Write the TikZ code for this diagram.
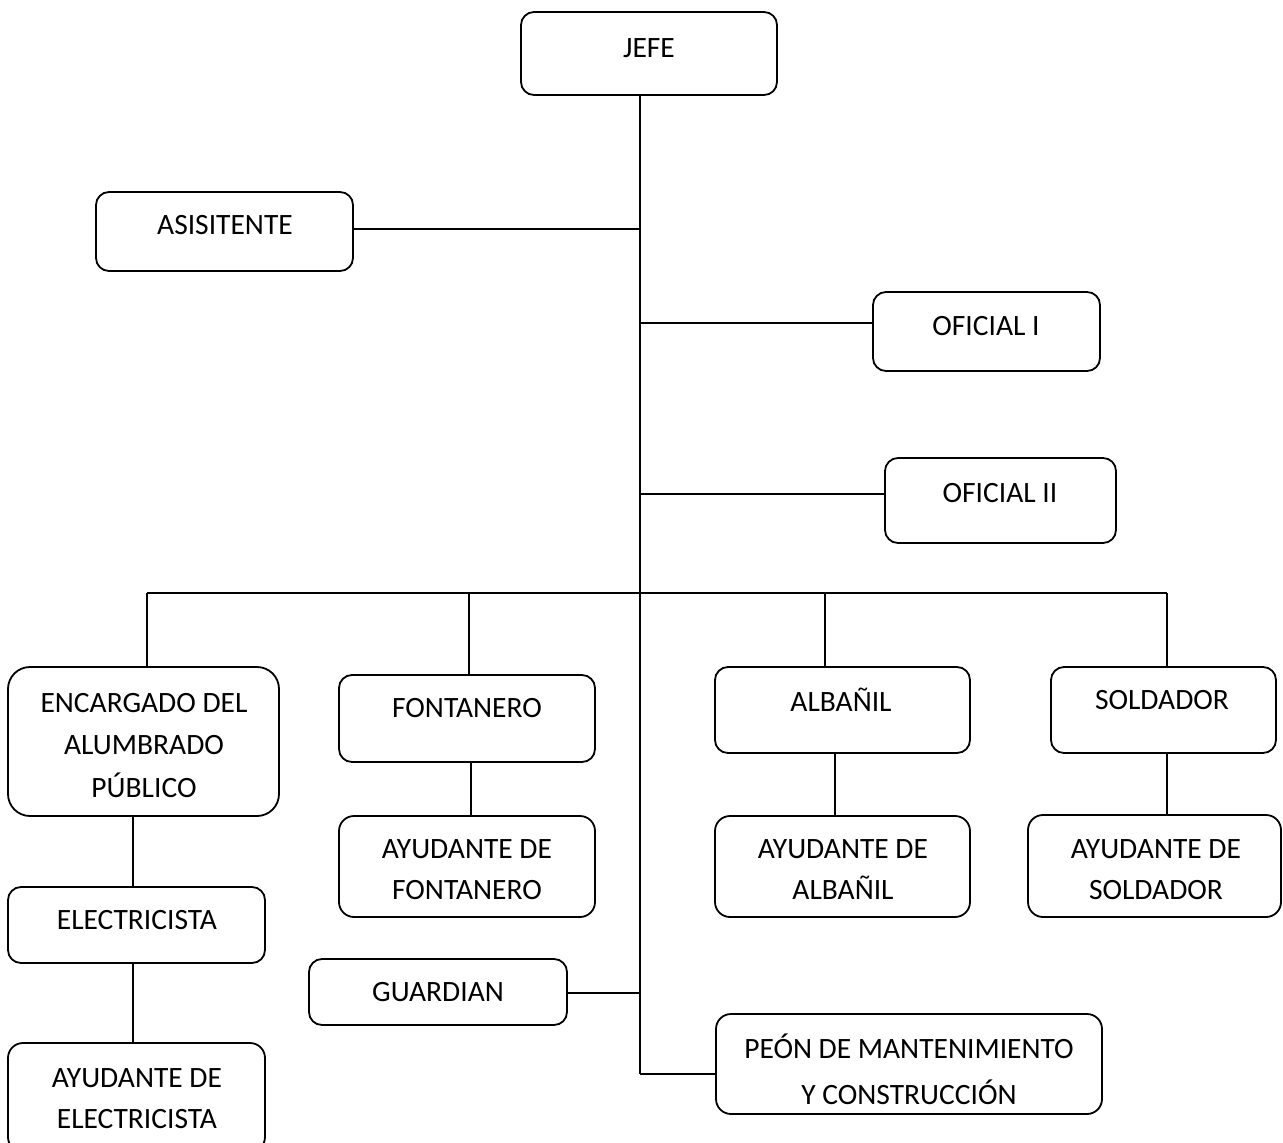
\documentclass[tikz,border=0pt]{standalone}
\usepackage{fontspec}
\setmainfont{Carlito}

% rounded box given by its left, top, right and bottom edges
\newcommand\orgbox[6][13]{%
  \node[unitbox, rounded corners=#1pt,
        minimum width={#5pt-#3pt}, minimum height={#6pt-#4pt}]
    (#2) at ({(#3+#5)/2},{(#4+#6)/2}) {};}
% centred lines of text, anchored at the baseline of the first line
\newcommand\stack[1]{\begin{tabular}[t]{@{}c@{}}#1\end{tabular}}

\begin{document}
\begin{tikzpicture}[x=1pt, y=-1pt,
  font=\fontsize{29.5}{41}\selectfont,
  unitbox/.style={draw, line width=1.8pt, rectangle, inner sep=0pt},
  lbl/.style={anchor=base, inner sep=0pt},
  conn/.style={draw, line width=1.8pt}]

\useasboundingbox (0,0) rectangle (1283,1143);

% boxes
\orgbox{jefe}{521}{12}{777}{95}
\orgbox{asis}{96}{192}{353}{271}
\orgbox{of1}{873}{292}{1100}{371}
\orgbox{of2}{885}{458}{1116}{543}
\orgbox[22]{enc}{8}{667}{279}{816}
\orgbox{fon}{339}{675}{595}{762}
\orgbox{alb}{715}{667}{970}{753}
\orgbox{sol}{1051}{667}{1276}{753}
\orgbox[15]{afon}{339}{816}{595}{917}
\orgbox[15]{aalb}{715}{816}{970}{917}
\orgbox[15]{asol}{1028}{815}{1281}{917}
\orgbox{elec}{8}{887}{265}{963}
\orgbox[15]{aelec}{8}{1043}{265}{1152}
\orgbox{guard}{309}{959}{567}{1025}
\orgbox[15]{peon}{716}{1014}{1102}{1114}

% texts
\node[lbl] (t-jefe)  at (649,57)   {JEFE};
\node[lbl] (t-asis)  at (225,234)  {ASISITENTE};
\node[lbl] (t-of1)   at (986,335)  {OFICIAL I};
\node[lbl] (t-of2)   at (1000,502) {OFICIAL II};
\node[lbl] (t-enc)   at (144,712)  {\stack{ENCARGADO DEL\\[1.5pt] ALUMBRADO\\[1.5pt] PÚBLICO}};
\node[lbl] (t-fon)   at (467,717)  {FONTANERO};
\node[lbl] (t-alb)   at (841,711)  {ALBAÑIL};
\node[lbl] (t-sol)   at (1162,709) {SOLDADOR};
\node[lbl] (t-afon)  at (467,858)  {\stack{AYUDANTE DE\\ FONTANERO}};
\node[lbl] (t-aalb)  at (843,858)  {\stack{AYUDANTE DE\\ ALBAÑIL}};
\node[lbl] (t-asol)  at (1156,858) {\stack{AYUDANTE DE\\ SOLDADOR}};
\node[lbl] (t-elec)  at (137,929)  {ELECTRICISTA};
\node[lbl] (t-aelec) at (137,1087) {\stack{AYUDANTE DE\\ ELECTRICISTA}};
\node[lbl] (t-guard) at (438,1001) {GUARDIAN};
\node[lbl] (t-peon)  at (909,1058) {\stack{PEÓN DE MANTENIMIENTO\\[5pt] Y CONSTRUCCIÓN}};

% trunk and distribution bus
\coordinate (trunkend) at (640,1074);
\coordinate (busL) at (147,593);
\coordinate (busR) at (1167,593);
\draw[conn] (jefe.south -| trunkend) -- (trunkend);
\draw[conn] (busL) -- (busR);

% side branches off the trunk
\draw[conn] (asis.east |- 0,229) -- (trunkend |- 0,229);
\draw[conn] (trunkend |- 0,323) -- (of1.west |- 0,323);
\draw[conn] (trunkend |- 0,494) -- (of2.west |- 0,494);
\draw[conn] (guard.east |- 0,993) -- (trunkend |- 0,993);
\draw[conn] (trunkend) -- (peon.west |- trunkend);

% drops from the bus
\draw[conn] (busL) -- (enc.north -| busL);
\draw[conn] (469,593) -- (fon.north -| 469,0);
\draw[conn] (825,593) -- (alb.north -| 825,0);
\draw[conn] (busR) -- (sol.north -| busR);

% chains below each trade
\draw[conn] (fon.south -| 471,0) -- (afon.north -| 471,0);
\draw[conn] (alb.south -| 835,0) -- (aalb.north -| 835,0);
\draw[conn] (sol.south -| busR) -- (asol.north -| busR);
\draw[conn] (enc.south -| 133,0) -- (elec.north -| 133,0);
\draw[conn] (elec.south -| 133,0) -- (aelec.north -| 133,0);
\end{tikzpicture}
\end{document}
